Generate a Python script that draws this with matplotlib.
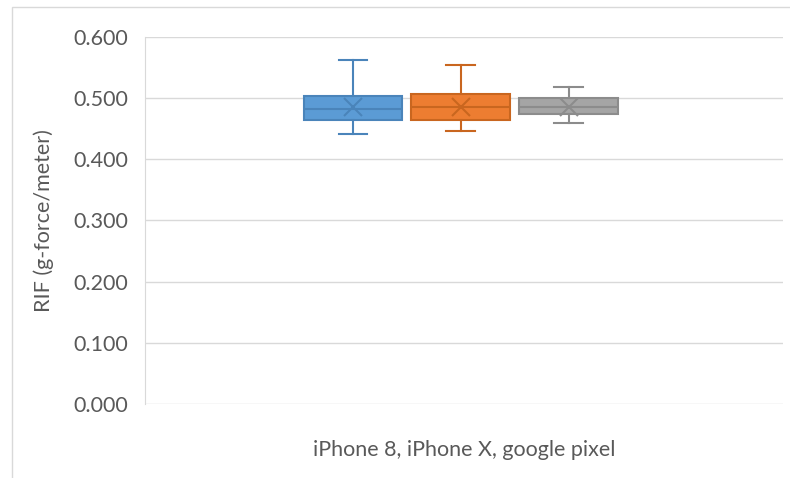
import matplotlib
matplotlib.use("Agg")
import matplotlib.pyplot as plt
from matplotlib.patches import Rectangle

plt.rcParams['font.family'] = ['Lato', 'DejaVu Sans']

# 数据：三台手机的箱线统计
devices = ['iPhone 8', 'iPhone X', 'google pixel']
whislo = [0.441, 0.447, 0.459]
q1 = [0.464, 0.465, 0.474]
med = [0.482, 0.486, 0.486]
q3 = [0.504, 0.507, 0.500]
whishi = [0.563, 0.555, 0.518]
mean = [0.486, 0.486, 0.486]

fills = ['#5B9BD5', '#ED7D31', '#A5A5A5']
edges = ['#4A84BA', '#C9661F', '#8C8C8C']
offsets = [-0.174, -0.005, 0.164]
y_ticks = [0.0, 0.1, 0.2, 0.3, 0.4, 0.5, 0.6]
x_label = 'iPhone 8, iPhone X, google pixel'
y_label = 'RIF (g-force/meter)'

fig = plt.figure(figsize=(7.9, 4.78), dpi=100)
ax = fig.add_axes([145 / 790, 1 - 404 / 478, 638 / 790, 367 / 478])

for i in range(len(devices)):
    stats = [dict(whislo=whislo[i], q1=q1[i], med=med[i], q3=q3[i],
                  whishi=whishi[i], mean=mean[i], label=devices[i])]
    ax.bxp(stats, positions=[offsets[i]], widths=0.155, showmeans=True,
           patch_artist=True, showfliers=False,
           boxprops=dict(facecolor=fills[i], edgecolor=edges[i], linewidth=1.5),
           medianprops=dict(color=edges[i], linewidth=1.5),
           whiskerprops=dict(color=edges[i], linewidth=1.5),
           capprops=dict(color=edges[i], linewidth=1.5),
           capwidths=0.045,
           meanprops=dict(marker='x', markeredgecolor=edges[i], markersize=13,
                          markeredgewidth=1.5))

ax.set_xlim(-0.5, 0.5)
ax.set_ylim(0, 0.6)
ax.set_yticks(y_ticks)
ax.set_yticklabels(['{:.3f}'.format(v) for v in y_ticks])
ax.set_xticks([])
ax.yaxis.grid(True, color='#D9D9D9', linewidth=1)
ax.set_axisbelow(True)
for s in ['top', 'right', 'bottom']:
    ax.spines[s].set_visible(False)
ax.spines['left'].set_color('#D9D9D9')
ax.tick_params(axis='y', length=0, pad=12, labelsize=15.5, labelcolor='#595959')
ax.set_ylabel(y_label, fontsize=15.5, color='#595959', labelpad=14)
ax.set_xlabel(x_label, fontsize=15.5, color='#595959', labelpad=26)

# 外框
fig.patches.append(Rectangle((12 / 790, -0.01), 1.0, 1 - 7 / 478 + 0.01,
                             transform=fig.transFigure, fill=False,
                             edgecolor='#D9D9D9', linewidth=1))

fig.savefig('out.png', dpi=100)
